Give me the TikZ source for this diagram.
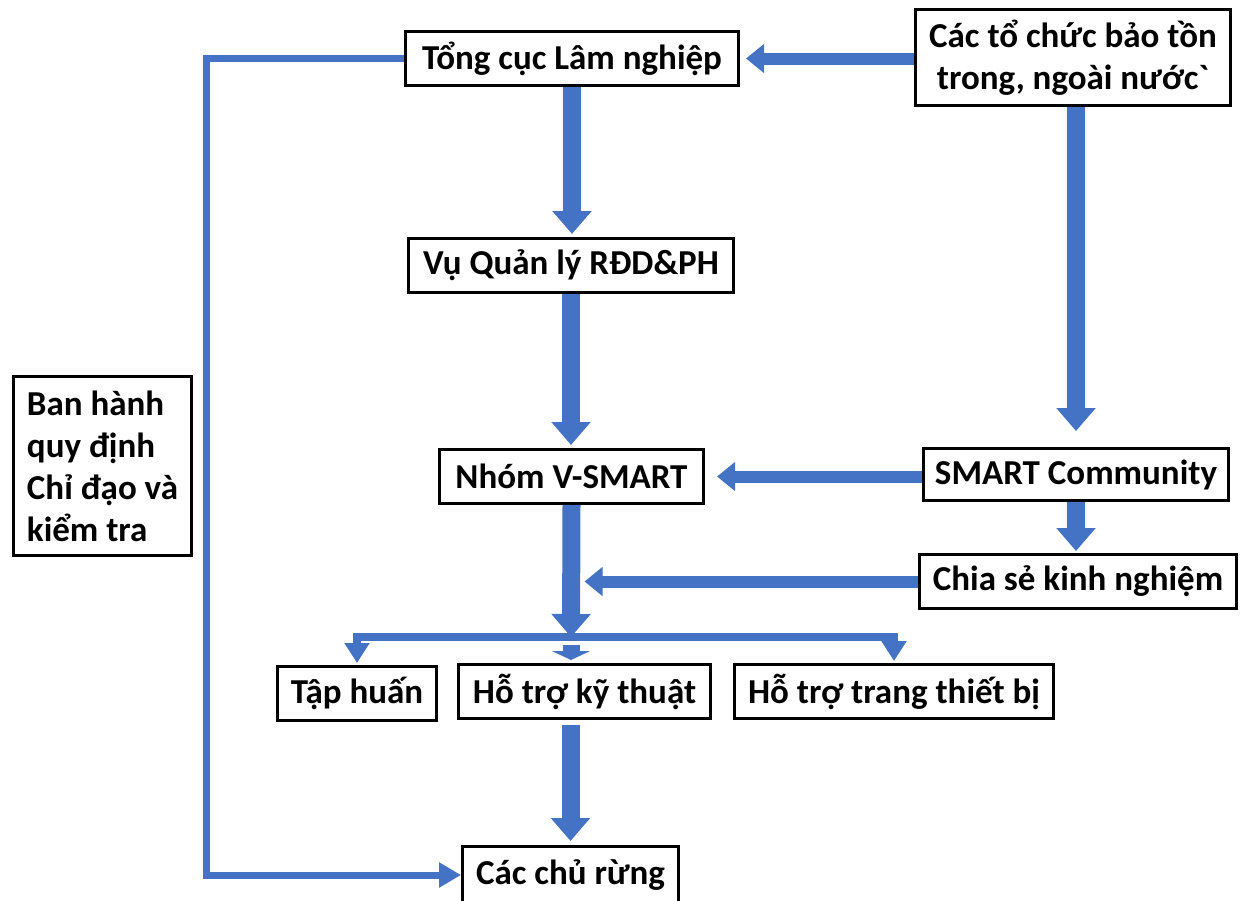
\documentclass[tikz,border=0pt]{standalone}
\usepackage{fontspec}
\setmainfont{Carlito}
\usepackage{tikz}
\usetikzlibrary{arrows.meta, positioning}
\definecolor{flowblue}{HTML}{4472C4}
\tikzset{
    block/.style={rectangle, draw, line width=3pt, fill=white, align=center, inner sep=4pt, font=\bfseries\fontsize{35}{42}\selectfont},
    bigarrow/.style={flowblue, line width=18pt, -{Triangle[width=38pt, length=23pt]}},
    sidearrow/.style={flowblue, line width=12pt, -{Triangle[width=28pt, length=18pt]}},
    stubarrow/.style={flowblue, line width=17pt, -{Triangle[width=38pt, length=9pt]}},
    forkline/.style={flowblue, line width=8pt},
    feedline/.style={flowblue, line width=7pt, -{Triangle[width=24pt, length=22pt]}}
}

\begin{document}
\begin{tikzpicture}[x=1pt, y=-1pt]
        \useasboundingbox (0,0) rectangle (1244,900);

        % Top row
        \node (TCLN) [block, minimum width=333pt, minimum height=54pt] at (572,58.5) {Tổng cục Lâm nghiệp};
        \node (TC_BT) [block, minimum width=315pt, minimum height=96pt] at (1073,57.5) {Các tổ chức bảo tồn\\trong, ngoài nước\textasciigrave};

        % Middle column
        \node (VQL) [block, minimum width=325pt, minimum height=54pt] at (571,265.5) {Vụ Quản lý RĐD\&PH};
        \node (V_SMART) [block, minimum width=264pt, minimum height=54pt] at (571.5,476.5) {Nhóm V-SMART};
        \node (BH) [block, align=left, minimum width=178pt, minimum height=179pt] at (102.5,466) {Ban hành\\quy định\\Chỉ đạo và\\kiểm tra};

        % Right column
        \node (SMART_C) [block, minimum width=305pt, minimum height=52pt] at (1076,474.5) {SMART Community};
        \node (Chia_se) [block, minimum width=317pt, minimum height=54pt] at (1078,581.5) {Chia sẻ kinh nghiệm};

        % Support row
        \node (Tap_huan) [block, minimum width=159pt, minimum height=54pt] at (357,693.5) {Tập huấn};
        \node (Ky_thuat) [block, minimum width=252pt, minimum height=54pt] at (584.5,691.5) {Hỗ trợ kỹ thuật};
        \node (Thiet_bi) [block, minimum width=319pt, minimum height=54pt] at (894,691.5) {Hỗ trợ trang thiết bị};
        \node (Chu_rung) [block, minimum width=216pt, minimum height=57pt] at (570.5,875) {Các chủ rừng};

        \coordinate (join) at (V_SMART.south |- Chia_se.west);
        \coordinate (fork) at (571,637);
        \coordinate (stub) at (571,645);

        \draw [bigarrow, shorten >=3pt] (TCLN.south) -- (TCLN.south |- VQL.north);
        \draw [bigarrow, shorten >=3pt] (VQL.south) -- (VQL.south |- V_SMART.north);
        \draw [bigarrow, shorten >=16pt] (TC_BT.south -| SMART_C.north) -- (SMART_C.north);
        \draw [bigarrow, shorten >=2pt] (SMART_C.south) -- (SMART_C.south |- Chia_se.north);
        \draw [sidearrow, shorten >=6pt] (TC_BT.west |- TCLN.east) -- (TCLN.east);
        \draw [sidearrow, shorten >=12pt] (SMART_C.west |- V_SMART.east) -- (V_SMART.east);
        \draw [sidearrow, shorten >=13pt] (Chia_se.west) -- (join);
        \draw [bigarrow] (V_SMART.south) -- (fork);
        \draw [forkline, {Triangle[width=24pt, length=20pt]}-{Triangle[width=24pt, length=20pt]}, shorten <=2pt, shorten >=2pt] (Tap_huan.north) |- (fork) -| (Thiet_bi.north);
        \draw [stubarrow, shorten >=3pt] (stub) -- (stub |- Ky_thuat.north);
        \draw [bigarrow, shorten <=5pt, shorten >=4pt] (Chu_rung.north |- Ky_thuat.south) -- (Chu_rung.north);
        \draw [feedline] (TCLN.west) -- ++(-198,0) |- (Chu_rung.west);
    \end{tikzpicture}
\end{document}
